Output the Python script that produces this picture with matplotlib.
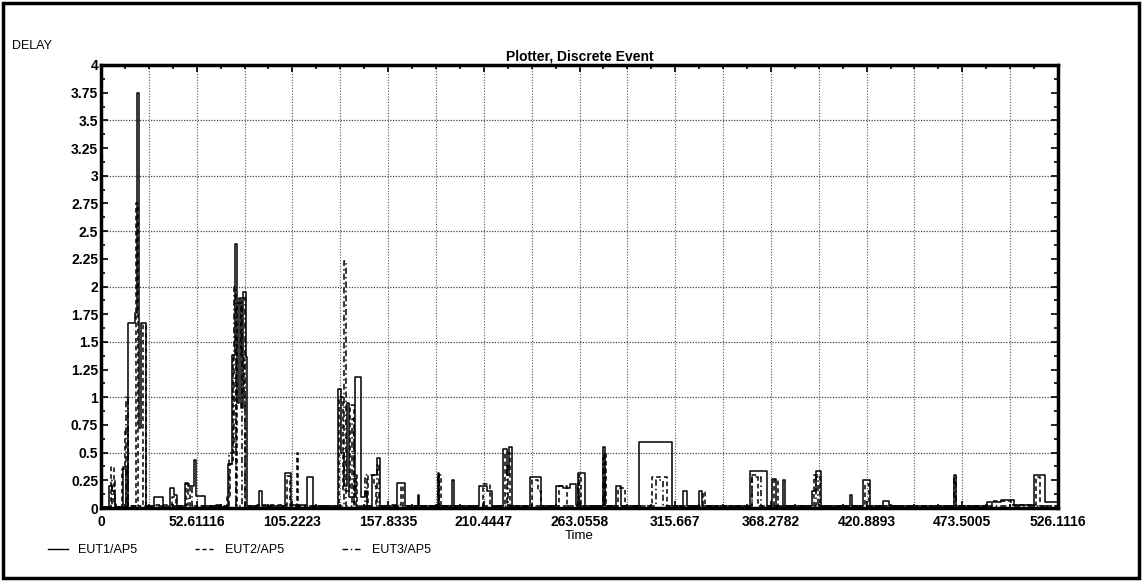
import matplotlib.pyplot as plt
import numpy as np
from matplotlib.lines import Line2D
from matplotlib.patches import Rectangle
from matplotlib.ticker import FormatStrFormatter, MultipleLocator

plt.rcParams["font.family"] = ["Liberation Sans", "DejaVu Sans"]

x_step = 52.6111645
x_max = 526.111645
y_max = 4.0

series_names = ["EUT1/AP5", "EUT2/AP5", "EUT3/AP5"]

# step events: time, delay (value held until the next event)
eut1_t = [0, 4.5, 6, 7.5, 12, 13.5, 15, 18.5, 20, 20.8, 22, 25, 29, 34, 38, 40, 42,
          46, 48, 51, 52.5, 57, 63, 66, 70, 72, 73.5, 74.5, 76, 77, 78, 79.5, 80.5,
          87, 88.5, 101, 104.5, 113, 116.5, 130.5, 132, 133.5, 135, 136.5, 139.5,
          143, 145, 146, 149, 152, 153.5, 163, 167, 174, 175, 185, 186, 193, 194,
          208, 212, 215, 221, 223, 224.5, 226, 236, 242, 250, 254, 258, 261, 262.5,
          266, 276, 277, 283, 286, 296, 314, 320, 322, 329, 330.5, 357, 366, 369,
          371, 375, 376, 391, 393, 396, 412, 413, 419, 423, 430, 433, 469, 469.8,
          487, 495, 502, 513, 519, 526.11]
eut1_v = [0.01, 0.2, 0.15, 0.01, 0.37, 0.01, 1.67, 1.76, 3.75, 0.72, 1.67, 0.02, 0.1,
          0.01, 0.18, 0.12, 0.02, 0.23, 0.2, 0.43, 0.11, 0.02, 0.03, 0.01, 0.4, 1.38,
          2.38, 0.95, 1.9, 0.9, 1.95, 1.36, 0.02, 0.15, 0.02, 0.32, 0.03, 0.28, 0.02,
          1.07, 0.5, 0.2, 0.95, 0.1, 1.18, 0.1, 0.15, 0.02, 0.3, 0.45, 0.02, 0.23,
          0.02, 0.12, 0.02, 0.32, 0.02, 0.25, 0.02, 0.2, 0.15, 0.02, 0.53, 0.3, 0.55,
          0.02, 0.28, 0.02, 0.2, 0.18, 0.22, 0.03, 0.32, 0.02, 0.55, 0.02, 0.2, 0.02,
          0.6, 0.02, 0.15, 0.02, 0.15, 0.02, 0.33, 0.02, 0.26, 0.02, 0.25, 0.02, 0.15,
          0.33, 0.02, 0.12, 0.02, 0.25, 0.02, 0.06, 0.02, 0.3, 0.02, 0.05, 0.07, 0.03,
          0.3, 0.05, 0.05]

eut2_t = [0, 5.5, 7, 8.5, 11.5, 13, 15, 19.2, 20.5, 23, 24.5, 30, 39, 41, 47, 49, 69,
          71, 72.5, 74, 75, 77, 78.5, 79, 86, 102, 104, 108, 108.5, 131, 133, 137,
          139, 140, 141, 147, 150, 151, 160, 165, 166, 186, 187, 210, 214, 222, 225,
          237, 240, 242, 252, 256, 263, 264, 276.5, 277.5, 284, 288, 303, 311, 331,
          332, 358, 361, 370, 372, 392, 395, 420, 422, 490, 500, 514, 516, 526.11]
eut2_v = [0.01, 0.37, 0.05, 0.01, 0.35, 0.72, 0.02, 2.75, 0.02, 1.65, 0.02, 0.03, 0.1,
          0.02, 0.22, 0.02, 0.1, 0.4, 1.35, 0.02, 1.85, 1.38, 1.0, 0.02, 0.03, 0.29,
          0.02, 0.5, 0.02, 1.0, 0.15, 0.93, 0.02, 0.3, 0.02, 0.3, 0.2, 0.02, 0.03, 0.2,
          0.02, 0.3, 0.02, 0.22, 0.02, 0.5, 0.02, 0.25, 0.15, 0.02, 0.2, 0.02, 0.3,
          0.02, 0.5, 0.02, 0.18, 0.02, 0.28, 0.02, 0.14, 0.02, 0.3, 0.02, 0.25, 0.02,
          0.3, 0.02, 0.22, 0.02, 0.06, 0.03, 0.28, 0.02, 0.02]

eut3_t = [0, 6, 7.5, 14, 15, 45, 48, 50, 70.5, 73, 74, 77.5, 79, 98, 133.5, 134.5,
          138, 139, 145, 146, 152, 153, 185, 186, 223, 224, 262, 263, 276, 277, 305,
          309, 358, 363, 393, 394, 469, 470, 526.11]
eut3_v = [0.01, 0.25, 0.01, 1.0, 0.02, 0.03, 0.2, 0.02, 0.5, 2.0, 0.02, 1.9, 0.02,
          0.02, 2.23, 0.02, 0.8, 0.02, 0.3, 0.02, 0.4, 0.02, 0.3, 0.02, 0.4, 0.02,
          0.25, 0.02, 0.45, 0.02, 0.25, 0.02, 0.28, 0.02, 0.28, 0.02, 0.28, 0.02, 0.02]

line_styles = ["-", (0, (3, 2)), (0, (4, 2, 1, 2))]

fig = plt.figure(figsize=(11.42, 5.81), dpi=100)
ax = fig.add_axes([101 / 1142, 73 / 581, 957 / 1142, 443 / 581])

all_t = [eut1_t, eut2_t, eut3_t]
all_v = [eut1_v, eut2_v, eut3_v]
for t, v, ls, name in zip(all_t, all_v, line_styles, series_names):
    ax.plot(t, v, drawstyle="steps-post", color="black", lw=1.1, ls=ls, label=name)

# dotted grid: horizontal every 0.5, vertical every half x-step
for gy in np.arange(0.5, y_max, 0.5):
    ax.axhline(gy, color="#444444", lw=0.9, ls=(0, (1, 1.2)), zorder=0)
for gx in np.arange(x_step / 2, x_max, x_step / 2):
    ax.axvline(gx, color="#555555", lw=0.8, ls=(0, (1, 1.5)), zorder=0)

ax.set_xlim(0, x_max)
ax.set_ylim(0, y_max)
ax.xaxis.set_major_locator(MultipleLocator(x_step))
ax.xaxis.set_minor_locator(MultipleLocator(x_step / 4))
ax.xaxis.set_major_formatter(FormatStrFormatter("%.7g"))
ax.yaxis.set_major_locator(MultipleLocator(0.25))
ax.yaxis.set_minor_locator(MultipleLocator(0.125))
ax.yaxis.set_major_formatter(FormatStrFormatter("%g"))

ax.tick_params(which="both", direction="in", top=True, right=True, width=1.2)
ax.tick_params(which="major", length=5, labelsize=10)
ax.tick_params(which="minor", length=3)
ax.tick_params(axis="y", pad=2)
ax.tick_params(axis="x", pad=5)
for lab in ax.get_xticklabels() + ax.get_yticklabels():
    lab.set_fontweight("bold")

for sp in ax.spines.values():
    sp.set_linewidth(2.5)

ax.set_xlabel("Time", fontsize=9.5, labelpad=0.5)
ax.set_title("Plotter, Discrete Event", fontsize=10, fontweight="bold", pad=3)
fig.text(12 / 1142, 1 - 46 / 581, "DELAY", fontsize=9, va="center", ha="left")

handles = [Line2D([], [], color="black", lw=1.0, ls=ls) for ls in line_styles]
fig.legend(handles, series_names, loc="center left", bbox_to_anchor=(0.0324, 0.053),
           ncol=3, frameon=False, fontsize=9, handlelength=1.6, columnspacing=4.6)

fig.add_artist(Rectangle((0.003, 0.005), 0.994, 0.99, transform=fig.transFigure,
                         fill=False, lw=2.5, color="black"))

fig.savefig("out.png", dpi=100)
